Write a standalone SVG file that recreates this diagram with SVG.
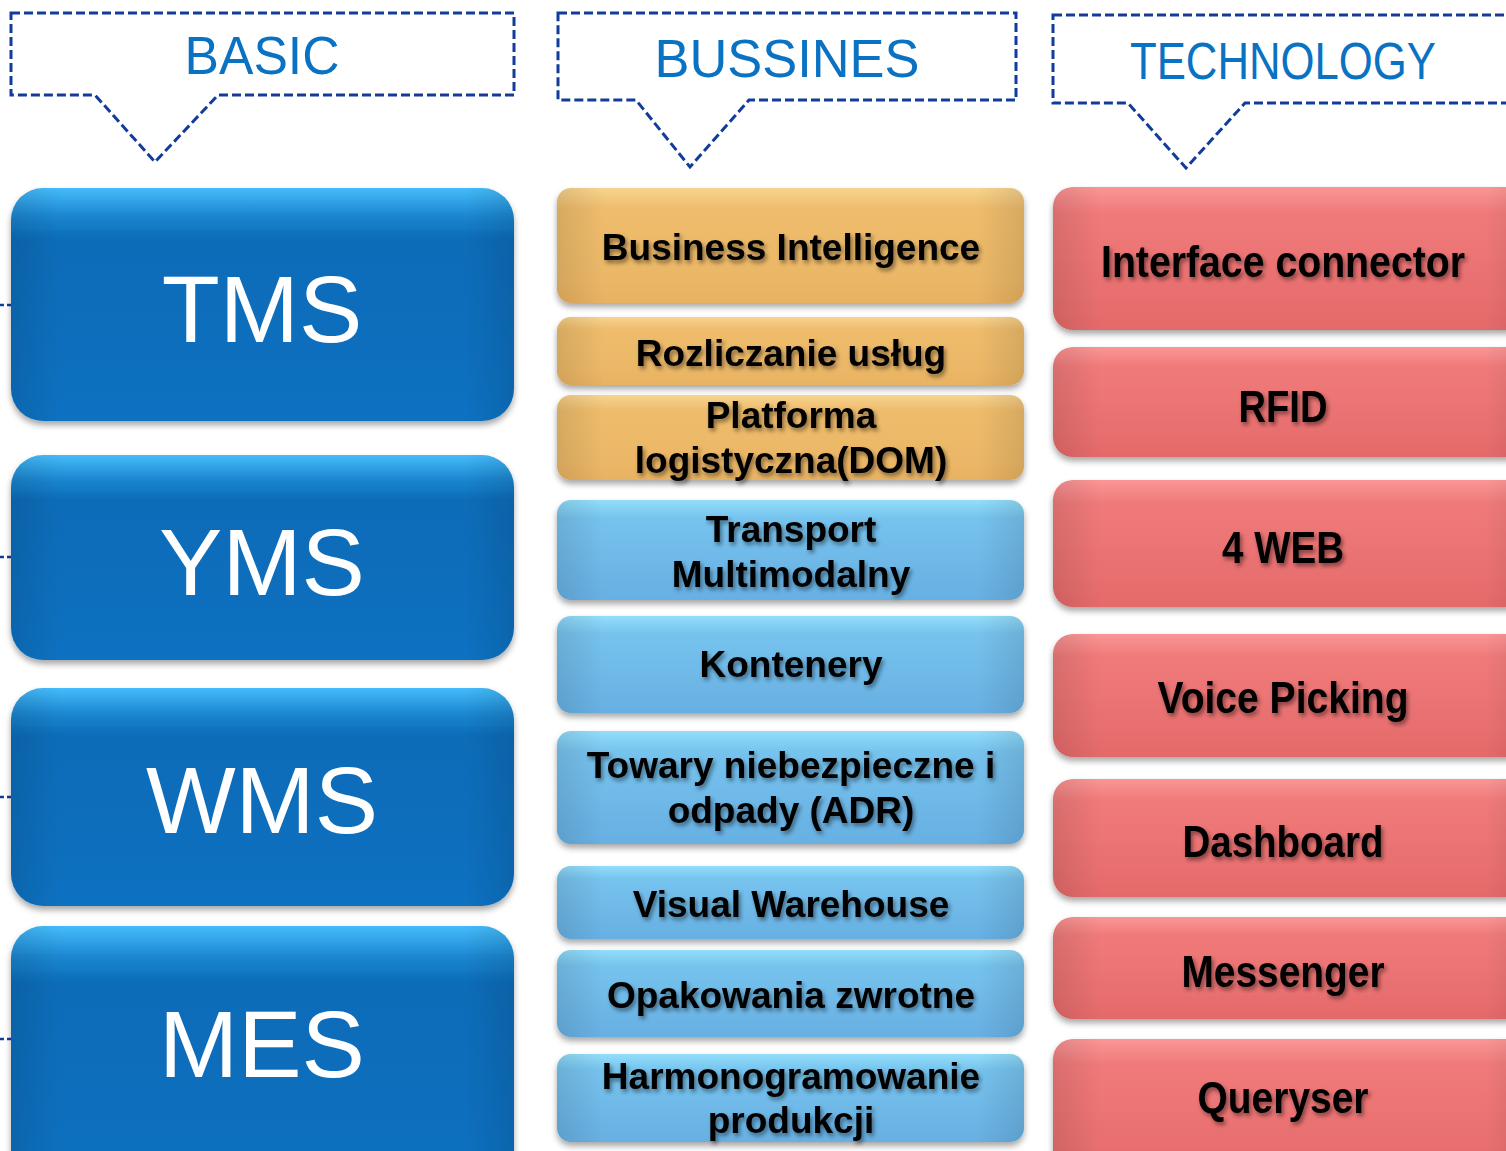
<svg xmlns="http://www.w3.org/2000/svg" width="1506" height="1151" viewBox="0 0 1506 1151">
<defs>
  <linearGradient id="gBlueV" x1="0" y1="0" x2="0" y2="1">
    <stop offset="0" stop-color="#45bcfb"/>
    <stop offset="0.12" stop-color="#1b86d0"/>
    <stop offset="0.22" stop-color="#0b6cb8"/>
    <stop offset="0.85" stop-color="#0a6fbf"/>
    <stop offset="1" stop-color="#0a72c2"/>
  </linearGradient>
  <linearGradient id="gOrangeV" x1="0" y1="0" x2="0" y2="1">
    <stop offset="0" stop-color="#f8d48e"/>
    <stop offset="0.18" stop-color="#eebc6c"/>
    <stop offset="0.8" stop-color="#ebb766"/>
    <stop offset="1" stop-color="#e7b262"/>
  </linearGradient>
  <linearGradient id="gLBlueV" x1="0" y1="0" x2="0" y2="1">
    <stop offset="0" stop-color="#93defb"/>
    <stop offset="0.18" stop-color="#76c3ee"/>
    <stop offset="0.8" stop-color="#6bb4e5"/>
    <stop offset="1" stop-color="#66b0e3"/>
  </linearGradient>
  <linearGradient id="gRedV" x1="0" y1="0" x2="0" y2="1">
    <stop offset="0" stop-color="#fb9696"/>
    <stop offset="0.18" stop-color="#f07a7a"/>
    <stop offset="0.8" stop-color="#e86e6e"/>
    <stop offset="1" stop-color="#e46a6a"/>
  </linearGradient>
  <linearGradient id="gEdge" x1="0" y1="0" x2="1" y2="0">
    <stop offset="0" stop-color="#000" stop-opacity="0.10"/>
    <stop offset="0.06" stop-color="#000" stop-opacity="0.04"/>
    <stop offset="0.1" stop-color="#000" stop-opacity="0"/>
    <stop offset="0.9" stop-color="#000" stop-opacity="0"/>
    <stop offset="0.94" stop-color="#000" stop-opacity="0.04"/>
    <stop offset="1" stop-color="#000" stop-opacity="0.10"/>
  </linearGradient>
  <filter id="boxShadow" x="-5%" y="-10%" width="110%" height="125%">
    <feDropShadow dx="0" dy="4" stdDeviation="3" flood-color="#000" flood-opacity="0.35"/>
  </filter>
  <filter id="txtShadow" x="-10%" y="-30%" width="120%" height="160%">
    <feDropShadow dx="2" dy="3" stdDeviation="2" flood-color="#000" flood-opacity="0.45"/>
  </filter>
</defs>
<style>
  .callout { fill: none; stroke: #123c9c; stroke-width: 3; stroke-dasharray: 9 4; }
  .stub { fill: none; stroke: #123c9c; stroke-width: 2.5; stroke-dasharray: 4 3; }
  .head { font-family: "Liberation Sans", Arial, sans-serif; fill: #0a72c2; text-anchor: middle; }
  .big { font-family: "Liberation Sans", Arial, sans-serif; fill: #ffffff; font-size: 95px; text-anchor: middle; }
  .mid { font-family: "Liberation Sans", Arial, sans-serif; font-weight: bold; font-size: 37px; fill: #000; text-anchor: middle; filter: url(#txtShadow); }
  .red { font-family: "Liberation Sans Narrow", "Liberation Sans", Arial, sans-serif; font-weight: bold; font-size: 45px; fill: #000; text-anchor: middle; filter: url(#txtShadow); }
  .bBlue { fill: url(#gBlueV); filter: url(#boxShadow); }
  .bOrange { fill: url(#gOrangeV); filter: url(#boxShadow); }
  .bLBlue { fill: url(#gLBlueV); filter: url(#boxShadow); }
  .bRed { fill: url(#gRedV); filter: url(#boxShadow); }
  .edge { fill: url(#gEdge); }
</style>
<rect width="1506" height="1151" fill="#ffffff"/>

<g id="connectors">
  <line class="stub" x1="0" y1="305" x2="11" y2="305"/>
  <line class="stub" x1="0" y1="557" x2="11" y2="557"/>
  <line class="stub" x1="0" y1="797" x2="11" y2="797"/>
  <line class="stub" x1="0" y1="1039" x2="11" y2="1039"/>
</g>

<g id="callout-basic">
  <path class="callout" d="M11,13 H514 V95 H218 L155,162 L95,95 H11 Z"/>
  <text class="head" x="262" y="74" font-size="54" textLength="155" lengthAdjust="spacingAndGlyphs">BASIC</text>
</g>
<g id="callout-bussines">
  <path class="callout" d="M558,13 H1016 V100 H749 L690,167 L636,100 H558 Z"/>
  <text class="head" x="787" y="77" font-size="53" textLength="265" lengthAdjust="spacingAndGlyphs">BUSSINES</text>
</g>
<g id="callout-technology">
  <path class="callout" d="M1053,15 H1530 V103 H1245 L1186,168 L1128,103 H1053 Z"/>
  <text class="head" x="1283" y="79" font-size="52" textLength="306" lengthAdjust="spacingAndGlyphs">TECHNOLOGY</text>
</g>

<!-- BASIC column -->
<g id="node-tms">
  <rect class="bBlue" x="11" y="188" width="503" height="233" rx="32"/>
  <rect class="edge" x="11" y="188" width="503" height="233" rx="32"/>
  <text class="big" x="262" y="342">TMS</text>
</g>
<g id="node-yms">
  <rect class="bBlue" x="11" y="455" width="503" height="205" rx="32"/>
  <rect class="edge" x="11" y="455" width="503" height="205" rx="32"/>
  <text class="big" x="262" y="595">YMS</text>
</g>
<g id="node-wms">
  <rect class="bBlue" x="11" y="688" width="503" height="218" rx="32"/>
  <rect class="edge" x="11" y="688" width="503" height="218" rx="32"/>
  <text class="big" x="262" y="833">WMS</text>
</g>
<g id="node-mes">
  <rect class="bBlue" x="11" y="926" width="503" height="260" rx="32"/>
  <rect class="edge" x="11" y="926" width="503" height="260" rx="32"/>
  <text class="big" x="262" y="1077">MES</text>
</g>

<!-- BUSSINES column -->
<g id="node-bi">
  <rect class="bOrange" x="557" y="188" width="467" height="115" rx="14"/>
  <rect class="edge" x="557" y="188" width="467" height="115" rx="14"/>
  <text class="mid" x="791" y="260">Business Intelligence</text>
</g>
<g id="node-rozliczanie">
  <rect class="bOrange" x="557" y="317" width="467" height="68" rx="14"/>
  <rect class="edge" x="557" y="317" width="467" height="68" rx="14"/>
  <text class="mid" x="791" y="366">Rozliczanie usług</text>
</g>
<g id="node-platforma">
  <rect class="bOrange" x="557" y="395" width="467" height="85" rx="14"/>
  <rect class="edge" x="557" y="395" width="467" height="85" rx="14"/>
  <text class="mid" x="791" y="428">Platforma</text>
  <text class="mid" x="791" y="473">logistyczna(DOM)</text>
</g>
<g id="node-transport">
  <rect class="bLBlue" x="557" y="500" width="467" height="100" rx="14"/>
  <rect class="edge" x="557" y="500" width="467" height="100" rx="14"/>
  <text class="mid" x="791" y="542">Transport</text>
  <text class="mid" x="791" y="587">Multimodalny</text>
</g>
<g id="node-kontenery">
  <rect class="bLBlue" x="557" y="616" width="467" height="97" rx="14"/>
  <rect class="edge" x="557" y="616" width="467" height="97" rx="14"/>
  <text class="mid" x="791" y="677">Kontenery</text>
</g>
<g id="node-towary">
  <rect class="bLBlue" x="557" y="731" width="467" height="113" rx="14"/>
  <rect class="edge" x="557" y="731" width="467" height="113" rx="14"/>
  <text class="mid" x="791" y="778">Towary niebezpieczne i</text>
  <text class="mid" x="791" y="823">odpady (ADR)</text>
</g>
<g id="node-visual">
  <rect class="bLBlue" x="557" y="866" width="467" height="73" rx="14"/>
  <rect class="edge" x="557" y="866" width="467" height="73" rx="14"/>
  <text class="mid" x="791" y="917">Visual Warehouse</text>
</g>
<g id="node-opakowania">
  <rect class="bLBlue" x="557" y="950" width="467" height="87" rx="14"/>
  <rect class="edge" x="557" y="950" width="467" height="87" rx="14"/>
  <text class="mid" x="791" y="1008">Opakowania zwrotne</text>
</g>
<g id="node-harmonogramowanie">
  <rect class="bLBlue" x="557" y="1054" width="467" height="88" rx="14"/>
  <rect class="edge" x="557" y="1054" width="467" height="88" rx="14"/>
  <text class="mid" x="791" y="1089">Harmonogramowanie</text>
  <text class="mid" x="791" y="1133">produkcji</text>
</g>

<!-- TECHNOLOGY column -->
<g id="node-interface">
  <rect class="bRed" x="1053" y="187" width="480" height="143" rx="20"/>
  <rect class="edge" x="1053" y="187" width="480" height="143" rx="20"/>
  <text class="red" x="1283" y="277" textLength="364" lengthAdjust="spacingAndGlyphs">Interface connector</text>
</g>
<g id="node-rfid">
  <rect class="bRed" x="1053" y="347" width="480" height="110" rx="20"/>
  <rect class="edge" x="1053" y="347" width="480" height="110" rx="20"/>
  <text class="red" x="1283" y="422" textLength="89" lengthAdjust="spacingAndGlyphs">RFID</text>
</g>
<g id="node-4web">
  <rect class="bRed" x="1053" y="480" width="480" height="127" rx="20"/>
  <rect class="edge" x="1053" y="480" width="480" height="127" rx="20"/>
  <text class="red" x="1283" y="563" textLength="122" lengthAdjust="spacingAndGlyphs">4 WEB</text>
</g>
<g id="node-voice">
  <rect class="bRed" x="1053" y="634" width="480" height="123" rx="20"/>
  <rect class="edge" x="1053" y="634" width="480" height="123" rx="20"/>
  <text class="red" x="1283" y="713" textLength="251" lengthAdjust="spacingAndGlyphs">Voice Picking</text>
</g>
<g id="node-dashboard">
  <rect class="bRed" x="1053" y="779" width="480" height="118" rx="20"/>
  <rect class="edge" x="1053" y="779" width="480" height="118" rx="20"/>
  <text class="red" x="1283" y="857" textLength="201" lengthAdjust="spacingAndGlyphs">Dashboard</text>
</g>
<g id="node-messenger">
  <rect class="bRed" x="1053" y="917" width="480" height="102" rx="20"/>
  <rect class="edge" x="1053" y="917" width="480" height="102" rx="20"/>
  <text class="red" x="1283" y="987" textLength="203" lengthAdjust="spacingAndGlyphs">Messenger</text>
</g>
<g id="node-queryser">
  <rect class="bRed" x="1053" y="1039" width="480" height="140" rx="20"/>
  <rect class="edge" x="1053" y="1039" width="480" height="140" rx="20"/>
  <text class="red" x="1283" y="1113" textLength="171" lengthAdjust="spacingAndGlyphs">Queryser</text>
</g>
</svg>
